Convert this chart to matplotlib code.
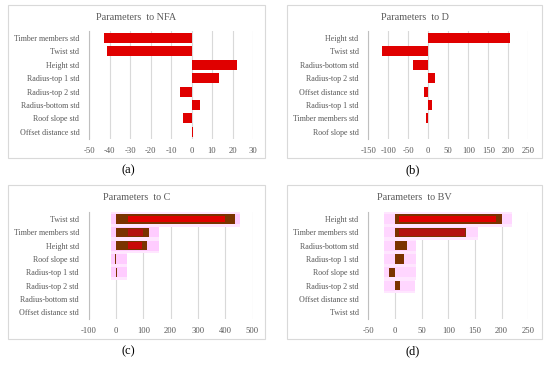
import matplotlib
matplotlib.use("Agg")
import matplotlib.pyplot as plt
from matplotlib.patches import Rectangle

plt.rcParams['font.family'] = ['Liberation Serif', 'DejaVu Serif']

# ---- data ----
nfa_labels = ["Timber members std", "Twist std", "Height std", "Radius-top 1 std",
              "Radius-top 2 std", "Radius-bottom std", "Roof slope std", "Offset distance std"]
nfa_values = [-42.7, -41.0, 22.0, 13.2, -5.6, 4.0, -4.0, 0.8]
nfa_ticks = [-50, -40, -30, -20, -10, 0, 10, 20, 30]

d_labels = ["Height std", "Twist std", "Radius-bottom std", "Radius-top 2 std",
            "Offset distance std", "Radius-top 1 std", "Timber members std", "Roof slope std"]
d_values = [204, -115, -39, 17, -10, 8, -6, -1]
d_ticks = [-150, -100, -50, 0, 50, 100, 150, 200, 250]

c_labels = ["Twist std", "Timber members std", "Height std", "Roof slope std",
            "Radius-top 1 std", "Radius-top 2 std", "Radius-bottom std", "Offset distance std"]
c_values = [437, 120, 112, -5, 4, 0, 0, 0]
c_inner_low = [45, 45, 45, 0, 0, 0, 0, 0]
c_inner_high = [398, 100, 95, 0, 0, 0, 0, 0]
c_band_low = [-18, -18, -18, -18, -18, 0, 0, 0]
c_band_high = [454, 158, 158, 39, 39, 0, 0, 0]
c_ticks = [-100, 0, 100, 200, 300, 400, 500]

bv_labels = ["Height std", "Timber members std", "Radius-bottom std", "Radius-top 1 std",
             "Roof slope std", "Radius-top 2 std", "Offset distance std", "Twist std"]
bv_values = [200, 134, 23, 17.5, -10.5, 9.5, 0, 0]
bv_inner_low = [8, 8, 0, 0, 0, 0, 0, 0]
bv_inner_high = [190, 131, 0, 0, 0, 0, 0, 0]
bv_band_low = [-20, -20, -20, -20, -20, -20, 0, 0]
bv_band_high = [220, 156, 40, 40, 40, 38, 0, 0]
bv_ticks = [-50, 0, 50, 100, 150, 200, 250]

# ---- style ----
W, H = 550, 365
RED = '#E00000'
DARKRED = '#B41010'
BROWN = '#7A3300'
TXT = '#595959'
GRID = '#D9D9D9'

fig = plt.figure(figsize=(W / 100, H / 100), dpi=100)


def box(x0, y0, x1, y1, title, title_y):
    fig.patches.append(Rectangle((x0 / W, 1 - y1 / H), (x1 - x0) / W, (y1 - y0) / H,
                                 transform=fig.transFigure, fill=False,
                                 edgecolor='#D9D9D9', lw=0.8))
    fig.text((x0 + x1) / 2 / W, 1 - title_y / H, title, fontsize=7.3, color=TXT,
             ha='center', va='center')


def make_axes(x0, x1, y0, y1, labels, ticks):
    ax = fig.add_axes([x0 / W, 1 - y1 / H, (x1 - x0) / W, (y1 - y0) / H])
    ax.set_xlim(ticks[0], ticks[-1])
    ax.set_ylim(len(labels) - 0.5, -0.5)
    ax.set_xticks(ticks)
    ax.set_xticklabels([str(t) for t in ticks], fontsize=6.2, color=TXT)
    ax.set_yticks(range(len(labels)))
    ax.set_yticklabels(labels, fontsize=5.8, color=TXT)
    ax.tick_params(axis='y', length=0, pad=7)
    ax.tick_params(axis='x', length=0, pad=6)
    for t in ticks:
        ax.axvline(t, color=GRID, lw=0.8, zorder=0)
    for s in ['top', 'right', 'bottom']:
        ax.spines[s].set_visible(False)
    ax.spines['left'].set_color('#BFBFBF')
    ax.spines['left'].set_linewidth(0.8)
    ax.patch.set_alpha(0)
    return ax


# panel boxes
box(8, 5, 265, 158, "Parameters  to NFA", 17)
box(287, 5, 542, 158, "Parameters  to D", 17)
box(8, 185, 265, 339, "Parameters  to C", 198)
box(287, 185, 542, 339, "Parameters  to BV", 198)

# (a)
ax = make_axes(89, 253, 31.3, 138.5, nfa_labels, nfa_ticks)
ax.barh(range(len(nfa_labels)), nfa_values, height=0.75, color=RED, zorder=3)

# (b)
ax = make_axes(368.3, 528.3, 31.3, 138.5, d_labels, d_ticks)
ax.barh(range(len(d_labels)), d_values, height=0.75, color=RED, zorder=3)

# (c)
ax = make_axes(88.7, 252.5, 212.3, 319, c_labels, c_ticks)
ys = range(len(c_labels))
ax.barh(ys, [h - l for l, h in zip(c_band_low, c_band_high)], left=c_band_low,
        height=1.15, color='#FFE6FF', zorder=1)
ax.barh(ys, [h - l for l, h in zip(c_band_low, c_band_high)], left=c_band_low,
        height=0.75, color='#FFCCFF', zorder=2)
ax.barh(ys, c_values, height=0.68, color=BROWN, zorder=3)
ax.barh(ys, [h - l for l, h in zip(c_inner_low, c_inner_high)], left=c_inner_low,
        height=0.5, color=[RED, DARKRED, '#C80808'] + [RED] * 5, zorder=4)

# (d)
ax = make_axes(368.3, 528.3, 212.3, 319, bv_labels, bv_ticks)
ys = range(len(bv_labels))
ax.barh(ys, [h - l for l, h in zip(bv_band_low, bv_band_high)], left=bv_band_low,
        height=1.15, color='#FFE6FF', zorder=1)
ax.barh(ys, [h - l for l, h in zip(bv_band_low, bv_band_high)], left=bv_band_low,
        height=0.75, color='#FFD6FF', zorder=2)
ax.barh(ys, bv_values, height=0.68, color=BROWN, zorder=3)
ax.barh(ys, [h - l for l, h in zip(bv_inner_low, bv_inner_high)], left=bv_inner_low,
        height=0.5, color=[RED, DARKRED] + [RED] * 6, zorder=4)

# captions
for x, y, s in [(128, 170, "(a)"), (413, 170, "(b)"), (128, 351, "(c)"), (413, 351, "(d)")]:
    fig.text(x / W, 1 - y / H, s, fontsize=9, ha='center', va='center', color='black')

fig.savefig("out.png", dpi=100)
